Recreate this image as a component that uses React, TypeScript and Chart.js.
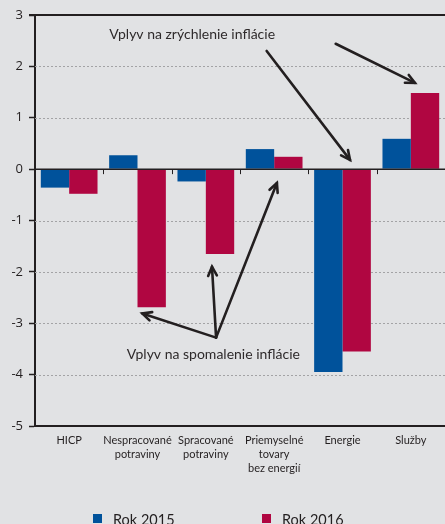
import React, { useEffect, useRef } from "react";
import { Chart, registerables } from "chart.js";

Chart.register(...registerables);

const categories: string[][] = [
  ["HICP"],
  ["Nespracované", "potraviny"],
  ["Spracované", "potraviny"],
  ["Priemyselné", "tovary", "bez energií"],
  ["Energie"],
  ["Služby"],
];
const rok2015 = [-0.36, 0.27, -0.24, 0.39, -3.95, 0.59];
const rok2016 = [-0.48, -2.69, -1.65, 0.24, -3.55, 1.48];
const seriesLabels = ["Rok 2015", "Rok 2016"];
const yTicks = [3, 2, 1, 0, -1, -2, -3, -4, -5];
const annotationTexts = ["Vplyv na zrýchlenie inflácie", "Vplyv na spomalenie inflácie"];

// annotation anchors in data coordinates [categoryIndex, value]
const textUpAt: [number, number] = [1.8, 2.63];
const textDownAt: [number, number] = [2.11, -3.6];
const arrowsUp: [number, number, number, number][] = [
  [2.89, 2.3, 4.11, 0.18],
  [3.9, 2.44, 5.06, 1.68],
];
const hub: [number, number] = [2.15, -3.28];
const arrowsDownEnds: [number, number][] = [
  [1.07, -2.81],
  [2.09, -1.9],
  [3.04, -0.27],
];

const BLUE = "#00529b";
const RED = "#b00641";
const DARK = "#231f20";
const BG = "#e1e2e4";

function arrow(ctx: CanvasRenderingContext2D, x1: number, y1: number, x2: number, y2: number) {
  ctx.beginPath();
  ctx.moveTo(x1, y1);
  ctx.lineTo(x2, y2);
  ctx.stroke();
  const ang = Math.atan2(y2 - y1, x2 - x1);
  const L = 10;
  const spread = 0.45;
  ctx.beginPath();
  ctx.moveTo(x2 - L * Math.cos(ang - spread), y2 - L * Math.sin(ang - spread));
  ctx.lineTo(x2, y2);
  ctx.lineTo(x2 - L * Math.cos(ang + spread), y2 - L * Math.sin(ang + spread));
  ctx.stroke();
}

const decor = {
  id: "decor",
  beforeDraw(chart: any) {
    const { ctx, width, height } = chart;
    ctx.save();
    ctx.fillStyle = BG;
    ctx.fillRect(0, 0, width, height);
    ctx.restore();
  },
  beforeDatasetsDraw(chart: any) {
    const { ctx, chartArea: a, scales } = chart;
    const y = scales.y;
    ctx.save();
    ctx.strokeStyle = "#a3a3a5";
    ctx.lineWidth = 1;
    ctx.setLineDash([2, 2]);
    for (const v of yTicks) {
      if (v === 0 || v === 3 || v === -5) continue;
      const py = Math.round(y.getPixelForValue(v)) + 0.5;
      ctx.beginPath();
      ctx.moveTo(a.left, py);
      ctx.lineTo(a.right, py);
      ctx.stroke();
    }
    ctx.restore();
  },
  afterDatasetsDraw(chart: any) {
    const { ctx, chartArea: a, scales } = chart;
    const x = scales.x;
    const y = scales.y;
    ctx.save();
    ctx.strokeStyle = DARK;
    const y0 = y.getPixelForValue(0);
    ctx.lineWidth = 1.5;
    ctx.beginPath();
    ctx.moveTo(a.left, y0);
    ctx.lineTo(a.right, y0);
    ctx.stroke();
    ctx.lineWidth = 1;
    for (let i = 1; i < categories.length; i++) {
      const px = Math.round((x.getPixelForValue(i - 1) + x.getPixelForValue(i)) / 2) + 0.5;
      ctx.beginPath();
      ctx.moveTo(px, y0);
      ctx.lineTo(px, y0 + 5);
      ctx.stroke();
    }
    const yTop = y.getPixelForValue(3);
    ctx.lineWidth = 2;
    ctx.beginPath();
    ctx.moveTo(a.left - 6, yTop);
    ctx.lineTo(a.right, yTop);
    ctx.stroke();

    ctx.lineWidth = 2.6;
    ctx.lineCap = "round";
    ctx.lineJoin = "miter";
    for (const [ax, ay, bx, by] of arrowsUp) {
      arrow(ctx, x.getPixelForValue(ax), y.getPixelForValue(ay), x.getPixelForValue(bx), y.getPixelForValue(by));
    }
    const hx = x.getPixelForValue(hub[0]);
    const hy = y.getPixelForValue(hub[1]);
    for (const [bx, by] of arrowsDownEnds) {
      arrow(ctx, hx, hy, x.getPixelForValue(bx), y.getPixelForValue(by));
    }

    ctx.fillStyle = "#2e2a2b";
    ctx.font = "14px Lato";
    ctx.textAlign = "center";
    ctx.textBaseline = "middle";
    ctx.fillText(annotationTexts[0], x.getPixelForValue(textUpAt[0]), y.getPixelForValue(textUpAt[1]));
    ctx.fillText(annotationTexts[1], x.getPixelForValue(textDownAt[0]), y.getPixelForValue(textDownAt[1]));
    ctx.restore();
  },
  afterDraw(chart: any) {
    const { ctx } = chart;
    const colors = [BLUE, RED];
    const xs = [93, 262];
    ctx.save();
    ctx.font = "14.5px Lato";
    ctx.textBaseline = "alphabetic";
    ctx.textAlign = "left";
    chart.data.datasets.forEach((ds: any, i: number) => {
      ctx.fillStyle = colors[i];
      ctx.fillRect(xs[i], 514, 9, 9);
      ctx.fillStyle = DARK;
      ctx.fillText(ds.label, xs[i] + 20, 525);
    });
    ctx.restore();
  },
};

export default function App() {
  const ref = useRef<HTMLCanvasElement | null>(null);
  useEffect(() => {
    document.body.style.margin = "0";
    document.body.style.overflow = "hidden";
    const canvas = ref.current!;
    const chart = new Chart(canvas, {
      type: "bar",
      data: {
        labels: categories,
        datasets: [
          { label: seriesLabels[0], data: rok2015, backgroundColor: BLUE, borderWidth: 0 },
          { label: seriesLabels[1], data: rok2016, backgroundColor: RED, borderWidth: 0 },
        ],
      },
      options: {
        animation: false,
        responsive: false,
        devicePixelRatio: 1,
        layout: { padding: { left: 0, right: 0, top: 15, bottom: 0 } },
        plugins: { legend: { display: false }, tooltip: { enabled: false } },
        datasets: { bar: { categoryPercentage: 0.83, barPercentage: 1 } },
        scales: {
          x: {
            grid: { display: false, drawTicks: false },
            border: { display: true, color: DARK, width: 2 },
            ticks: {
              color: DARK,
              font: { family: "Lato, sans-serif", size: 11, lineHeight: 1.25 },
              padding: 8,
              maxRotation: 0,
              autoSkip: false,
            },
            afterFit: (s: any) => {
              s.height = 98;
            },
          },
          y: {
            min: -5,
            max: 3,
            afterBuildTicks: (s: any) => {
              s.ticks = yTicks.map((v) => ({ value: v }));
            },
            grid: {
              drawOnChartArea: false,
              drawTicks: true,
              tickLength: 6,
              tickColor: DARK,
              tickWidth: 1.5,
            },
            border: { display: true, color: DARK, width: 2 },
            ticks: {
              color: DARK,
              font: { family: "Open Sans", size: 13 },
              padding: 6,
              callback: (v: any) => String(v),
            },
            afterFit: (s: any) => {
              s.width = 35;
            },
          },
        },
      },
      plugins: [decor],
    });
    return () => chart.destroy();
  }, []);
  return (
    <div style={{ position: "fixed", left: 0, top: 0, width: 445, height: 524, overflow: "hidden" }}>
      <canvas ref={ref} width={445} height={524} style={{ display: "block" }} />
    </div>
  );
}
